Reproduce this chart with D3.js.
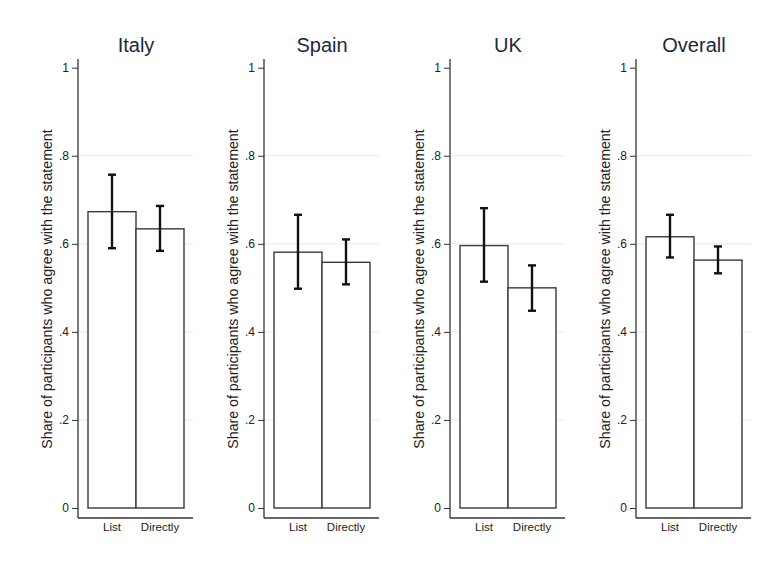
<!DOCTYPE html>
<html>
<head>
<meta charset="utf-8">
<script src="https://cdn.jsdelivr.net/npm/d3@7"></script>
<style>
  body { margin: 0; background: #fff; }
  text { font-family: "Liberation Sans", Arial, sans-serif; }
</style>
</head>
<body>
<script>
// Data
const countries = ["Italy", "Spain", "UK", "Overall"];
const methods = ["List", "Directly"];
const shares = [
  [0.673, 0.634],
  [0.581, 0.558],
  [0.596, 0.500],
  [0.616, 0.563]
];
const lower = [
  [0.590, 0.584],
  [0.498, 0.508],
  [0.514, 0.448],
  [0.569, 0.533]
];
const upper = [
  [0.757, 0.686],
  [0.666, 0.610],
  [0.681, 0.551],
  [0.666, 0.594]
];
const yTicks = [0, 0.2, 0.4, 0.6, 0.8, 1];
const yTitle = "Share of participants who agree with the statement";

const W = 765, H = 563;

const svg = d3.select("body").append("svg")
    .attr("width", W)
    .attr("height", H);

// one panel per country, 186px apart
const panel = d3.scaleBand()
    .domain(countries)
    .range([78, 78 + 4 * 186]);

const y = d3.scaleLinear().domain([0, 1]).range([508, 67.7]);

const fmt = d => d === 0 ? "0" : d === 1 ? "1" : d3.format(".1f")(d).replace(/^0/, "");

countries.forEach((c, ci) => {
    const g = svg.append("g")
        .attr("transform", "translate(" + panel(c) + ",0)");

    const x = d3.scaleBand()
        .domain(methods)
        .range([10, 106]);

    // grid lines
    g.append("g")
        .selectAll("line")
        .data(yTicks.filter(t => t > 0 && t < 1))
        .join("line")
        .attr("x1", 1).attr("x2", 115)
        .attr("y1", d => y(d)).attr("y2", d => y(d))
        .attr("stroke", "#e2eded")
        .attr("stroke-width", 1);

    // bars
    g.append("g")
        .selectAll("rect")
        .data(methods)
        .join("rect")
        .attr("x", d => x(d))
        .attr("y", (d, i) => y(shares[ci][i]))
        .attr("width", x.bandwidth())
        .attr("height", (d, i) => y(0) - y(shares[ci][i]))
        .attr("fill", "#fff")
        .attr("stroke", "#3a3a3a")
        .attr("stroke-width", 1.4);

    // error bars
    const eb = g.append("g").selectAll("g")
        .data(methods)
        .join("g")
        .attr("stroke", "#111")
        .attr("stroke-width", 2.4);
    eb.append("line")
        .attr("x1", d => x(d) + x.bandwidth() / 2)
        .attr("x2", d => x(d) + x.bandwidth() / 2)
        .attr("y1", (d, i) => y(lower[ci][i]))
        .attr("y2", (d, i) => y(upper[ci][i]));
    [lower, upper].forEach(arr => {
        eb.append("line")
            .attr("x1", d => x(d) + x.bandwidth() / 2 - 4)
            .attr("x2", d => x(d) + x.bandwidth() / 2 + 4)
            .attr("y1", (d, i) => y(arr[ci][i]))
            .attr("y2", (d, i) => y(arr[ci][i]));
    });

    // y axis
    const yAxis = g.append("g")
        .call(d3.axisLeft(y).tickValues(yTicks).tickFormat(fmt).tickSize(6).tickPadding(3));
    yAxis.select(".domain").remove();
    yAxis.selectAll(".tick line").attr("stroke", "#333");
    yAxis.selectAll("text").attr("font-size", 12).attr("fill", "#222");
    g.append("line")
        .attr("x1", 0).attr("x2", 0)
        .attr("y1", 59).attr("y2", 518)
        .attr("stroke", "#333").attr("stroke-width", 1.3);

    // x axis
    const xAxis = g.append("g")
        .attr("transform", "translate(0,518)")
        .call(d3.axisBottom(x).tickSize(0).tickPadding(5));
    xAxis.select(".domain").remove();
    xAxis.selectAll("text").attr("font-size", 11.5).attr("fill", "#222");
    g.append("line")
        .attr("x1", 0).attr("x2", 115)
        .attr("y1", 518).attr("y2", 518)
        .attr("stroke", "#333").attr("stroke-width", 1.3);

    // titles
    g.append("text")
        .attr("x", 58).attr("y", 52)
        .attr("text-anchor", "middle")
        .attr("font-size", 20)
        .attr("fill", "#1c2742")
        .text(c);

    g.append("text")
        .attr("transform", "translate(-26,289) rotate(-90)")
        .attr("text-anchor", "middle")
        .attr("font-size", 14.2)
        .attr("fill", "#222")
        .text(yTitle);
});
</script>
</body>
</html>
